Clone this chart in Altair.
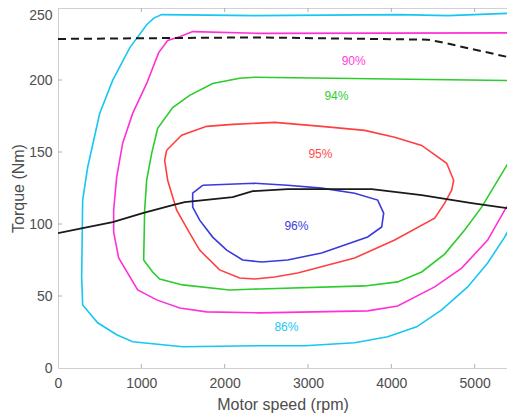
import altair as alt
import pandas as pd

# ---- data ----
cyan_x = [5480, 4680, 4100, 2360, 1244, 1150, 1064, 862, 656, 500, 356, 296, 284, 296, 476, 704, 896, 1496, 2420, 2960, 3560, 3956, 4304, 4604, 4916, 5156, 5360, 5480]
cyan_y = [246.5, 244.7, 245.4, 244.7, 245.4, 243.0, 238.4, 222.5, 199.7, 176.7, 139.4, 116.6, 63.2, 43.8, 31.4, 23.1, 18.2, 14.8, 15.5, 15.5, 17.5, 21.7, 28.6, 40.4, 56.3, 72.9, 90.9, 104.1]

mag_x = [5480, 2420, 1616, 1460, 1316, 1208, 1064, 896, 776, 704, 668, 668, 728, 956, 1184, 1460, 1784, 2420, 3716, 4076, 4520, 4844, 5156, 5360, 5480]
mag_y = [232.7, 232.4, 233.6, 230.1, 227.4, 219.0, 197.6, 176.8, 156.1, 132.5, 109.6, 94.4, 76.4, 54.2, 47.3, 41.7, 39.0, 38.3, 39.7, 43.1, 56.3, 69.4, 88.8, 109.6, 120.0]

grn_x = [5480, 2360, 2180, 1856, 1580, 1376, 1196, 1124, 1064, 1040, 1028, 1136, 1220, 1496, 2060, 2420, 3680, 4076, 4364, 4640, 4880, 5084, 5480]
grn_y = [199.6, 201.9, 201.2, 197.6, 189.3, 180.9, 166.4, 149.1, 130.4, 109.6, 75.0, 66.7, 61.8, 57.7, 54.2, 54.9, 57.0, 59.8, 66.7, 79.1, 95.8, 111.7, 149.8]

red_x = [1304, 1484, 1784, 2096, 2600, 3164, 3680, 4040, 4364, 4664, 4748, 4724, 4640, 4520, 4040, 3560, 2876, 2600, 2360, 2180, 1940, 1700, 1580, 1424, 1316, 1280, 1304]
red_y = [151.2, 161.6, 167.8, 169.2, 170.6, 167.8, 165.0, 160.2, 154.6, 142.2, 130.4, 123.5, 114.5, 104.1, 88.9, 76.4, 66.0, 63.2, 61.8, 62.5, 68.1, 81.9, 93.7, 109.6, 130.4, 144.2, 151.2]

blu_x = [1736, 2360, 2756, 3164, 3560, 3836, 3908, 3884, 3716, 3440, 3164, 2756, 2444, 2216, 2024, 1856, 1700, 1616, 1616, 1736]
blu_y = [126.9, 128.3, 126.9, 124.9, 121.4, 116.6, 107.6, 97.9, 91.0, 85.4, 79.9, 75.0, 73.6, 75.0, 81.9, 90.9, 102.7, 111.7, 121.4, 126.9]

blk_x = [0, 296, 656, 1016, 1376, 1520, 2096, 2336, 2756, 3764, 4364, 4964, 5480]
blk_y = [93.7, 97.2, 101.3, 107.6, 113.1, 115.2, 118.6, 122.8, 124.2, 124.2, 120.0, 114.5, 110.3]

dash_x = [0, 2360, 4436, 4604, 5480]
dash_y = [228.5, 229.6, 228.0, 226.2, 214.9]

levels = ["86%", "90%", "94%", "95%", "96%"]
level_colors = ["#18c6f2", "#ff30d8", "#2ccc2c", "#ff4040", "#3a3adc"]

label_text = ["90%", "94%", "95%", "96%", "86%"]
label_x = [3548, 3341, 3149, 2861, 2741]
label_y = [213.5, 188.8, 148.9, 98.5, 28.4]
label_col = ["#ff40e0", "#33cc33", "#ff4a4a", "#4040dd", "#22c8f0"]

x_ticks = [0, 1000, 2000, 3000, 4000, 5000]
y_ticks = [0, 50, 100, 150, 200, 250]

# ---- tables ----
rows = []
for lev, xs_, ys_ in zip(levels, [cyan_x, mag_x, grn_x, red_x, blu_x],
                         [cyan_y, mag_y, grn_y, red_y, blu_y]):
    for i, (a, b) in enumerate(zip(xs_, ys_)):
        rows.append({"x": a, "y": b, "level": lev, "order": i})
contours = pd.DataFrame(rows)
black = pd.DataFrame({"x": blk_x, "y": blk_y, "order": range(len(blk_x))})
dashed = pd.DataFrame({"x": dash_x, "y": dash_y, "order": range(len(dash_x))})
labels = pd.DataFrame({"x": label_x, "y": label_y, "t": label_text, "c": label_col})
xt = pd.DataFrame({"x": x_ticks[1:]})
yt = pd.DataFrame({"y": y_ticks[1:-1]})

FONT = "Liberation Sans"
AX = "#cfcfcf"
TXT = "#4d4d4d"

W = 449  # plot width that fits the page body (reference plot runs on past the crop)
xs = alt.Scale(domain=[0, 5388], nice=False, zero=False)
ys = alt.Scale(domain=[0, 250], nice=False)
xaxis = alt.Axis(title="Motor speed (rpm)", values=x_ticks, format="d", grid=False,
                 ticks=False, labelPadding=8, domainColor=AX,
                 titleY=41, titleBaseline="alphabetic",
                 labelFontSize=14, titleFontSize=16, labelFont=FONT, titleFont=FONT,
                 labelColor=TXT, titleColor=TXT, titleFontWeight="normal",
                 labelFlush=False, labelOverlap=False)
yaxis = alt.Axis(title="Torque (Nm)", values=y_ticks, format="d", grid=False,
                 ticks=False, labelPadding=6, titlePadding=2, domainColor=AX,
                 labelFontSize=14, titleFontSize=16, labelFont=FONT, titleFont=FONT,
                 labelColor=TXT, titleColor=TXT, titleFontWeight="normal",
                 labelFlush=False, labelOverlap=False,
                 labelBaseline=alt.ExprRef(expr="datum.value == 250 ? 'top' : 'middle'"))

X = alt.X("x:Q", scale=xs, axis=xaxis)
Y = alt.Y("y:Q", scale=ys, axis=yaxis)

lines = alt.Chart(contours).mark_line(strokeWidth=1.6, clip=True).encode(
    x=X, y=Y,
    color=alt.Color("level:N", scale=alt.Scale(domain=levels, range=level_colors), legend=None),
    detail="level:N", order="order:Q")

blk = alt.Chart(black).mark_line(strokeWidth=1.8, color="#1a1a1a", clip=True).encode(
    x=X, y=Y, order="order:Q")

dsh = alt.Chart(dashed).mark_line(strokeWidth=2, color="#1a1a1a", strokeDash=[8, 5], clip=True).encode(
    x=X, y=Y, order="order:Q")

txt = alt.Chart(labels).mark_text(font=FONT, fontSize=12).encode(
    x=X, y=Y, text="t:N", color=alt.Color("c:N", scale=None))

top_line = alt.Chart(xt).mark_rule(color=AX, strokeWidth=1).encode(
    x=alt.value(0), x2=alt.value(W), y=alt.value(0))
bot_ticks = alt.Chart(xt).mark_rule(color="#b0b0b0").encode(
    x=X, y=alt.value(360), y2=alt.value(356))
top_ticks = alt.Chart(xt).mark_rule(color="#b0b0b0").encode(
    x=X, y=alt.value(0), y2=alt.value(4))
left_ticks = alt.Chart(yt).mark_rule(color="#b0b0b0").encode(
    y=Y, x=alt.value(0), x2=alt.value(4))

chart = alt.layer(top_line, bot_ticks, top_ticks, left_ticks, lines, blk, dsh, txt).properties(
    width=W, height=360,
    autosize=alt.AutoSizeParams(type="none"),
    padding={"left": 50, "top": 0, "right": 0, "bottom": 50},
    background="white",
).configure_view(stroke=None)

chart.save("out.html", embed_options={"renderer": "svg", "actions": False})
